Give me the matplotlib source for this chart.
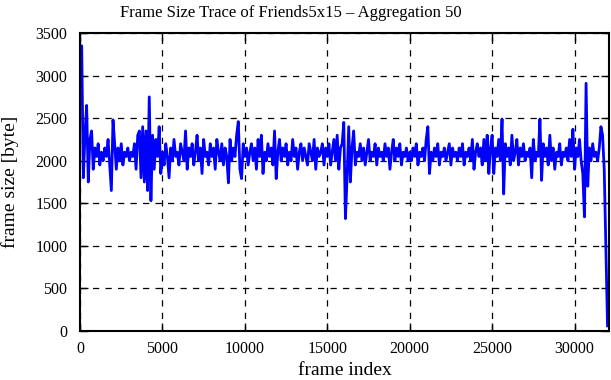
import numpy as np
import matplotlib
matplotlib.use("Agg")
import matplotlib.pyplot as plt

# Frame size per aggregation step (step = 100 frames)
step = 100
sizes_0k = [3300, 3350, 1800, 2300, 2650, 1750, 2250, 2350, 1900, 2150,
            2050, 2200, 1950, 2100, 2000, 2150, 2050, 2250, 1950, 1650,
            2480, 2200, 1900, 2150, 2000, 2200, 1950, 2100, 2050, 2150,
            2000, 2100, 2050, 2200, 1900, 2300, 2350, 1800, 2400, 1750,
            2350, 1650, 2750, 1530, 2300, 1900, 2250, 2050, 2400, 1850]
sizes_5k = [2100, 1950, 2200, 2050, 1800, 2150, 2000, 2250, 2050, 2100,
            1950, 2200, 2100, 2000, 2350, 1900, 2150, 2050, 2200, 1950,
            2100, 2300, 2000, 2150, 1850, 2250, 2050, 2100, 1950, 2200,
            2050, 2150, 1900, 2250, 2100, 2000, 2200, 1950, 2150, 2050,
            1740, 2250, 2000, 2150, 2050, 2300, 2460, 1900, 1790, 2200]
sizes_10k = [2050, 2150, 1950, 2100, 2200, 2000, 2150, 1900, 2250, 2050,
             2300, 1850, 2100, 2000, 2200, 2050, 2150, 1950, 2350, 1790,
             2100, 2250, 2000, 2150, 2050, 2200, 1950, 2100, 2000, 2250,
             2050, 2150, 1900, 2100, 2200, 2000, 2150, 2050, 1950, 2200,
             2100, 2000, 2250, 1900, 2150, 2050, 2100, 2200, 1950, 2150]
sizes_15k = [2050, 2200, 1950, 2100, 2250, 2000, 2300, 1900, 2150, 2200,
             2450, 1320, 1800, 2400, 1750, 2150, 2350, 1950, 2100, 2050,
             2200, 2000, 2150, 1950, 2100, 2250, 2000, 2100, 2050, 2200,
             1950, 2150, 2050, 2100, 2000, 2200, 2050, 2150, 1900, 2100,
             2250, 2000, 2150, 2050, 2200, 1950, 2100, 2050, 2150, 2000]
sizes_20k = [2100, 2000, 2150, 2050, 2200, 1950, 2100, 2050, 2150, 2000,
             2250, 2400, 1850, 2100, 2000, 2150, 2050, 2200, 1950, 2100,
             2050, 2150, 2000, 2100, 2200, 1950, 2150, 2050, 2100, 2000,
             2150, 2050, 2200, 1950, 2100, 2050, 2150, 2000, 2250, 1900,
             2100, 2200, 2050, 2150, 1950, 2250, 2000, 2300, 1850, 2150]
sizes_25k = [2300, 1850, 2150, 2050, 2250, 2000, 2490, 1610, 2200, 2050,
             2150, 1950, 2300, 2000, 2100, 2250, 1950, 2150, 2050, 2200,
             2000, 2100, 2050, 2150, 1800, 2250, 2000, 2100, 2050, 2490,
             1770, 2200, 2050, 2150, 1950, 2300, 2000, 2150, 1900, 2100,
             2050, 2200, 1950, 2100, 2050, 2150, 2000, 2250, 2050, 2370]
sizes_30k = [1900, 2150, 2050, 2250, 2000, 1850, 1340, 2910, 1700, 2150,
             2000, 2200, 2050, 2100, 2000, 2150, 2400, 2300, 1900, 1000, 60]

sizes = sizes_0k + sizes_5k + sizes_10k + sizes_15k + sizes_20k + sizes_25k + sizes_30k
frames = np.arange(len(sizes)) * step

plt.rcParams['font.family'] = ['Liberation Serif', 'DejaVu Serif']
plt.rcParams['font.size'] = 11.5

fig = plt.figure(figsize=(6.11, 3.8), dpi=100)
ax = fig.add_axes([0.131, 0.129, 0.866, 0.784])
ax.plot(frames, sizes, color="blue", linewidth=2.0)

ax.set_xlim(0, 32100)
ax.set_ylim(0, 3500)
ax.set_xticks(np.arange(0, 30001, 5000))
ax.set_yticks(np.arange(0, 3501, 500))
ax.grid(True, color="black", linestyle=(0, (5, 5)), linewidth=0.9)
ax.tick_params(direction="in", top=True, right=True, length=6, width=1, labelsize=11.5)
ax.tick_params(axis="x", pad=7)
ax.tick_params(axis="y", pad=9)
for s in ax.spines.values():
    s.set_linewidth(1.5)

# title sits a little left of the axes centre, as in the original
fig.text(0.476, 0.965, "Frame Size Trace of Friends5x15 \u2013 Aggregation 50",
         ha="center", va="center", fontsize=12)
ax.set_xlabel("frame index", fontsize=14, labelpad=4)
ax.set_ylabel("frame size [byte]", fontsize=14, labelpad=12)

fig.savefig("out.png", dpi=100)
plt.close(fig)
